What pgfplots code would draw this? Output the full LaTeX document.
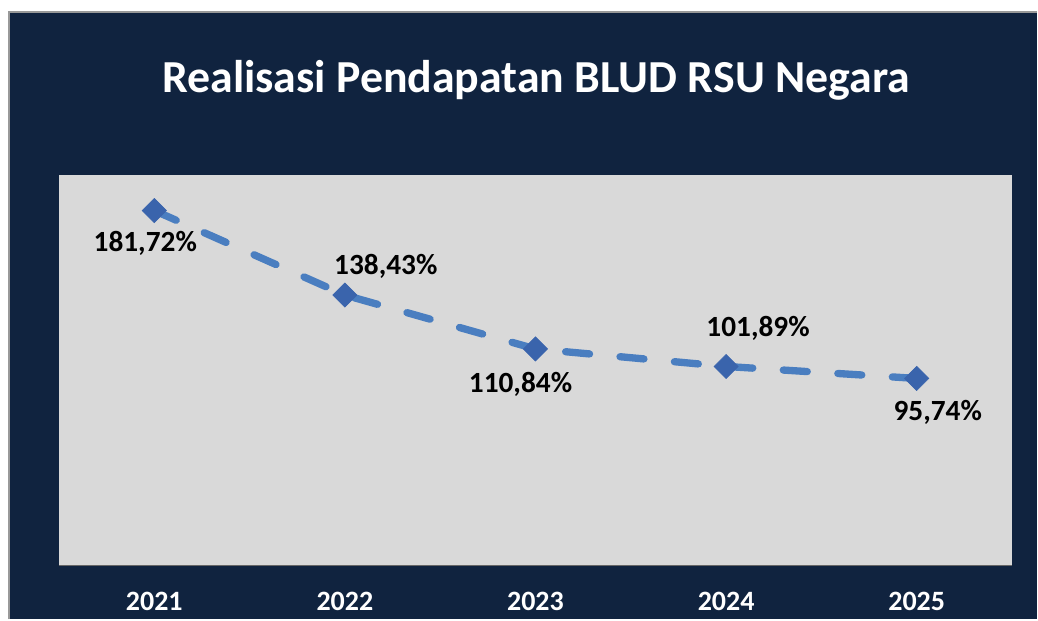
\documentclass[border=0pt]{standalone}
\usepackage{pgfplots}
\pgfplotsset{compat=1.18}
\usepackage{fontspec}
\setmainfont{Carlito}
\definecolor{bgnavy}{HTML}{10233F}
\definecolor{plotgray}{HTML}{D9D9D9}
\definecolor{lineblue}{HTML}{4A7EC0}
\definecolor{markblue}{HTML}{3A64AC}
\begin{document}
\begin{tikzpicture}[x=0.75pt,y=0.75pt]
\fill[white] (0,0) rectangle (1038,620);
\fill[bgnavy] (9,0) rectangle (1038,608);
\draw[gray!80,line width=1.5pt] (9.5,0) -- (9.5,608) -- (1038,608);
\node[anchor=base,text=white,font=\fontsize{34.4}{40}\selectfont\bfseries] at (536.5,527) {Realisasi Pendapatan BLUD RSU Negara};
\begin{axis}[
  at={(44.25pt,40.5pt)}, anchor=south west,
  scale only axis, width=715.5pt, height=293.25pt,
  xmin=-0.5, xmax=4.5, ymin=0, ymax=200,
  axis background/.style={fill=plotgray},
  axis x line*=bottom, axis y line=none,
  x axis line style={-, draw=gray!80!black, line width=1pt},
  xtick={0,1,2,3,4},
  xticklabels={2021,2022,2023,2024,2025},
  major tick length=0pt,
  xticklabel style={anchor=center, yshift=-27pt, text=white, font=\fontsize{21}{25}\selectfont\bfseries},
  ytick=\empty,
  clip=false,
  nodes near coords={\pgfmathprintnumber[fixed,precision=2,fixed zerofill,use comma,assume math mode=true]{\pgfplotspointmeta}\%},
  nodes near coords style={anchor=center, text=black, font=\fontsize{22}{26}\selectfont\bfseries, xshift=\dx*0.75pt, yshift=\dy*0.75pt},
  visualization depends on={value \thisrow{dx} \as \dx},
  visualization depends on={value \thisrow{dy} \as \dy},
]
\addplot[lineblue, line width=5.5pt, line cap=round, dash pattern=on 18pt off 23pt,
  mark=square*, mark size=6.4pt, mark options={solid, rotate=45, fill=markblue, draw=markblue, line width=0.5pt},
  point meta=y]
  table {
x y dx dy
0 181.72 -9 -33
1 138.43 41 29
2 110.84 -15 -35
3 101.89 32 38
4 95.74 21 -34
};
\end{axis}
\end{tikzpicture}
\end{document}
